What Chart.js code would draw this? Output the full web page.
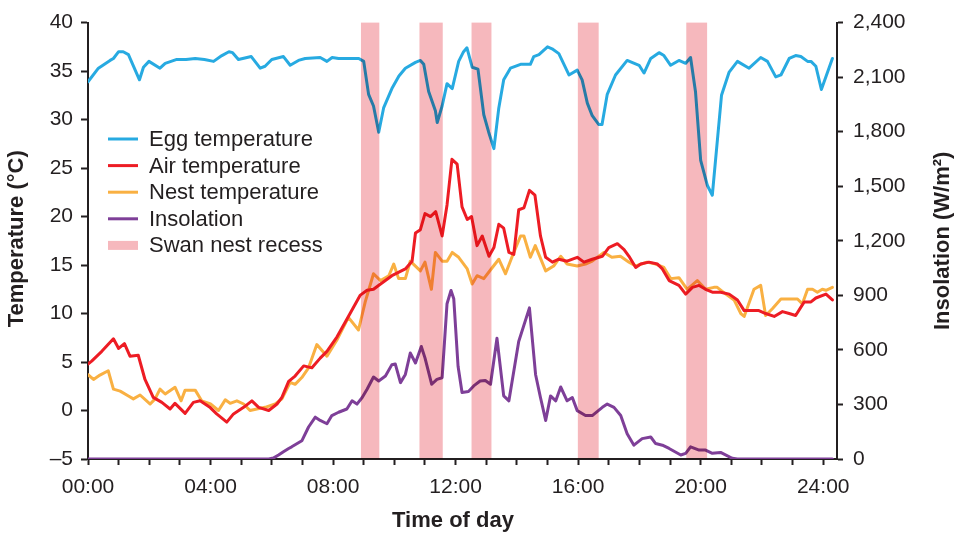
<!DOCTYPE html>
<html>
<head>
<meta charset="utf-8">
<title>Egg, air and nest temperature with insolation</title>
<script src="https://cdn.jsdelivr.net/npm/chart.js@4.4.1/dist/chart.umd.min.js"></script>
<style>
    body { margin: 0; background: #fff; }
    canvas { display: block; }
</style>
</head>
<body>
<canvas id="tempChart" width="961" height="534"></canvas>
<script>
// Values, time in decimal hours
const eggHours = [0.00,0.34,0.72,0.83,1.00,1.15,1.32,1.68,1.81,1.99,2.35,2.52,2.90,3.20,3.50,3.80,4.10,4.37,4.60,4.72,4.91,5.33,5.62,5.78,6.00,6.38,6.60,6.87,7.09,7.58,7.80,7.97,8.18,8.84,9.00,9.16,9.32,9.49,9.65,9.92,10.15,10.36,10.69,10.85,10.96,11.12,11.34,11.40,11.56,11.72,11.89,12.10,12.26,12.37,12.54,12.73,12.92,13.08,13.25,13.41,13.57,13.79,14.12,14.44,14.55,14.72,15.00,15.15,15.37,15.70,15.97,16.13,16.30,16.46,16.67,16.78,16.95,17.22,17.60,17.99,18.15,18.37,18.64,18.80,19.02,19.29,19.51,19.67,19.83,20.00,20.22,20.38,20.68,20.93,21.20,21.58,21.96,22.18,22.45,22.62,22.89,23.10,23.27,23.49,23.60,23.76,23.94,24.30];
const eggTemp = [33.9,35.3,36.1,36.3,37.0,37.0,36.7,34.1,35.4,36.0,35.3,35.8,36.2,36.2,36.3,36.2,36.0,36.6,37.0,36.9,36.2,36.5,35.3,35.5,36.2,36.5,35.6,36.1,36.3,36.4,36.0,36.4,36.3,36.3,36.0,32.6,31.4,28.7,31.2,33.2,34.5,35.3,35.9,36.1,35.7,32.9,30.9,29.7,31.4,33.7,33.2,36.0,37.0,37.4,35.4,35.2,30.5,28.7,27.0,31.2,34.1,35.3,35.7,35.7,36.5,36.7,37.5,37.3,36.8,34.6,35.1,34.1,31.7,30.4,29.5,29.5,32.6,34.6,36.1,35.6,34.8,36.3,36.9,36.6,35.6,36.1,35.8,36.4,32.9,25.8,23.2,22.2,32.5,34.9,36.0,35.3,36.4,36.0,34.4,34.6,36.3,36.6,36.5,36.0,36.0,35.5,33.1,36.3];

const airHours = [0.00,0.12,0.45,0.83,1.00,1.19,1.37,1.64,1.86,2.13,2.41,2.68,2.84,3.17,3.44,3.66,3.99,4.20,4.53,4.75,5.08,5.35,5.57,5.90,6.17,6.33,6.55,6.76,7.04,7.31,7.58,7.80,8.13,8.50,8.89,9.11,9.32,9.55,9.92,10.36,10.58,10.69,10.85,11.00,11.18,11.35,11.56,11.72,11.88,12.05,12.21,12.38,12.52,12.70,12.87,13.09,13.25,13.41,13.57,13.74,13.90,14.06,14.23,14.41,14.59,14.77,14.94,15.16,15.37,15.64,15.97,16.19,16.46,16.79,17.00,17.28,17.50,17.66,17.88,18.04,18.31,18.59,18.75,18.97,19.29,19.51,19.73,19.95,20.16,20.38,20.65,20.93,21.20,21.42,21.63,21.90,22.12,22.40,22.67,22.89,23.10,23.38,23.60,23.76,24.09,24.30];
const airTemp = [4.8,5.1,6.1,7.4,6.4,6.9,5.6,5.7,3.2,1.35,0.84,0.16,0.74,-0.3,0.84,1.0,0.3,-0.35,-1.2,-0.35,0.33,1.0,0.33,0.0,0.67,1.35,3.0,3.55,4.6,4.4,5.4,6.1,7.6,9.7,11.9,12.4,12.5,13.05,13.9,14.6,15.4,18.3,18.65,20.3,20.0,20.5,18.0,21.2,25.9,25.4,21.0,19.7,20.0,17.0,18.0,15.9,16.8,19.2,18.8,16.3,16.1,20.7,20.9,22.7,22.2,18.0,15.8,15.3,15.6,15.4,15.8,15.3,15.6,15.9,16.8,17.2,16.6,15.9,14.75,15.1,15.3,15.1,14.6,13.4,12.9,12.0,12.7,12.9,12.5,12.2,12.2,12.0,11.4,10.3,10.3,10.3,10.0,9.7,10.2,10.0,9.8,11.2,11.2,11.6,12.0,11.4];

const nestHours = [0.00,0.18,0.39,0.66,0.83,1.05,1.32,1.48,1.70,2.03,2.19,2.35,2.52,2.84,3.04,3.17,3.50,3.71,4.00,4.26,4.48,4.64,4.86,5.08,5.29,5.51,5.78,6.11,6.33,6.60,6.76,6.98,7.20,7.47,7.80,8.13,8.50,8.83,9.05,9.32,9.55,9.82,9.98,10.14,10.36,10.52,10.85,11.00,11.21,11.34,11.56,11.72,11.89,12.10,12.38,12.54,12.70,12.92,13.20,13.41,13.63,13.85,14.12,14.23,14.44,14.60,14.94,15.20,15.43,15.64,15.97,16.24,16.46,16.84,17.10,17.38,17.66,17.88,18.25,18.53,18.80,19.02,19.29,19.56,19.89,20.16,20.43,20.54,20.82,21.09,21.31,21.42,21.74,21.96,22.12,22.34,22.62,23.00,23.16,23.32,23.49,23.65,23.81,23.97,24.09,24.30];
const nestTemp = [3.7,3.2,3.65,4.1,2.2,2.0,1.5,1.2,1.6,0.67,1.2,2.2,1.7,2.4,1.0,2.1,2.1,1.0,0.67,0.0,1.1,0.74,1.0,0.67,0.0,0.16,0.33,0.67,1.2,2.9,2.7,3.4,4.4,6.8,5.6,7.3,9.6,8.3,11.2,14.1,13.4,13.9,15.1,13.6,13.6,15.4,14.4,15.3,12.5,16.3,15.4,15.4,16.3,15.8,14.6,13.05,13.9,13.6,14.75,15.6,14.1,15.9,18.0,18.0,15.8,17.0,14.4,14.9,15.9,15.1,14.9,15.1,15.4,16.3,15.8,15.9,15.3,14.9,15.3,15.1,14.75,13.6,13.7,12.5,13.4,12.5,12.7,12.7,12.0,11.4,10.0,9.7,12.5,12.9,9.8,10.5,11.5,11.5,11.5,11.0,12.5,12.5,12.2,12.5,12.4,12.7];

const insHours = [0.00,5.90,6.05,6.22,6.38,6.55,6.65,6.98,7.20,7.42,7.58,7.80,7.96,8.18,8.45,8.62,8.78,8.95,9.11,9.32,9.49,9.71,9.92,10.03,10.20,10.36,10.52,10.69,10.88,11.00,11.22,11.39,11.56,11.72,11.85,11.94,12.08,12.21,12.42,12.59,12.80,12.97,13.14,13.35,13.57,13.74,14.06,14.41,14.61,14.77,14.94,15.10,15.27,15.43,15.64,15.81,15.97,16.24,16.46,16.79,16.95,17.17,17.39,17.60,17.82,18.09,18.37,18.53,18.75,18.97,19.35,19.51,19.67,19.95,20.16,20.38,20.65,21.03,21.20,24.30];
const insolation = [0,0,5,22,40,58,67,100,176,230,212,194,239,257,275,320,302,338,384,451,429,456,519,523,420,465,583,528,619,556,411,438,447,854,927,881,510,366,371,402,429,432,411,664,347,320,646,831,465,338,212,347,320,396,320,338,266,239,239,284,302,284,239,139,76,112,121,85,76,58,22,31,67,49,49,31,36,4,0,0];

// Swan nest recess periods (hours)
const recessStart = [8.91, 10.82, 12.52, 15.99, 19.53];
const recessEnd = [9.51, 11.58, 13.17, 16.67, 20.21];

// Axis ticks
const hourTicks = [0,1,2,3,4,5,6,7,8,9,10,11,12,13,14,15,16,17,18,19,20,21,22,23,24];
const tempTicks = [-5,0,5,10,15,20,25,30,35,40];
const insolationTicks = [0,300,600,900,1200,1500,1800,2100,2400];

const seriesNames = ['Egg temperature', 'Air temperature', 'Nest temperature', 'Insolation', 'Swan nest recess'];
const seriesColors = ['#27aae1', '#ed1c24', '#f9b042', '#7e3f98'];
const recessColor = '#f6b8bd';
const ink = '#231f20';
const fontFamily = "'Liberation Sans', Arial, Helvetica, sans-serif";

Chart.defaults.font.family = fontFamily;
Chart.defaults.color = ink;

// Pair hours with values for the linear x axis
function toPoints(hours, values) {
    return hours.map((h, i) => ({ x: h, y: values[i] }));
}

function hourLabel(v) {
    return (v < 10 ? '0' + v : String(v)) + ':00';
}

function withComma(v) {
    if (v < 1000) return String(v);
    return Math.floor(v / 1000) + ',' + String(v % 1000).padStart(3, '0');
}

// Pink recess bands, multiplied over the lines so they darken underneath
const recessBands = {
    id: 'recessBands',
    afterDatasetsDraw(chart) {
        const { ctx, chartArea, scales: { x } } = chart;
        ctx.save();
        ctx.globalCompositeOperation = 'multiply';
        ctx.fillStyle = recessColor;
        recessStart.forEach((start, i) => {
            const x0 = x.getPixelForValue(start);
            const x1 = x.getPixelForValue(recessEnd[i]);
            ctx.fillRect(x0, chartArea.top, x1 - x0, chartArea.bottom - chartArea.top);
        });
        ctx.restore();
    }
};

// Legend inside the plot and the three axis titles
const legendAndTitles = {
    id: 'legendAndTitles',
    afterDraw(chart) {
        const { ctx, chartArea } = chart;
        const midY = (chartArea.top + chartArea.bottom) / 2;
        ctx.save();

        seriesNames.forEach((name, i) => {
            const y = 139 + i * 26.6;
            if (i < seriesColors.length) {
                ctx.strokeStyle = seriesColors[i];
                ctx.lineWidth = 3;
                ctx.beginPath();
                ctx.moveTo(108, y);
                ctx.lineTo(138, y);
                ctx.stroke();
            } else {
                ctx.fillStyle = recessColor;
                ctx.fillRect(108, y - 4.5, 30, 9);
            }
            ctx.fillStyle = ink;
            ctx.font = '22px ' + fontFamily;
            ctx.textAlign = 'left';
            ctx.textBaseline = 'middle';
            ctx.fillText(name, 149, y + 1);
        });

        ctx.fillStyle = ink;
        ctx.font = 'bold 22px ' + fontFamily;
        ctx.textAlign = 'center';
        ctx.textBaseline = 'middle';
        ctx.fillText('Time of day', 453, 521);

        ctx.save();
        ctx.translate(17, midY - 2);
        ctx.rotate(-Math.PI / 2);
        ctx.fillText('Temperature (°C)', 0, 0);
        ctx.restore();

        ctx.save();
        ctx.translate(943, midY);
        ctx.rotate(-Math.PI / 2);
        ctx.fillText('Insolation (W/m²)', 0, 0);
        ctx.restore();

        ctx.restore();
    }
};

const axisGrid = (len) => ({
    display: true,
    drawOnChartArea: false,
    drawTicks: true,
    tickLength: len,
    tickWidth: 2,
    tickColor: ink
});
const axisBorder = { display: true, color: ink, width: 2 };

const ctx = document.getElementById('tempChart').getContext('2d');
const tempChart = new Chart(ctx, {
    type: 'line',
    data: {
        datasets: [
            { label: seriesNames[0], data: toPoints(eggHours, eggTemp), borderColor: seriesColors[0], yAxisID: 'y' },
            { label: seriesNames[1], data: toPoints(airHours, airTemp), borderColor: seriesColors[1], yAxisID: 'y' },
            { label: seriesNames[2], data: toPoints(nestHours, nestTemp), borderColor: seriesColors[2], yAxisID: 'y' },
            { label: seriesNames[3], data: toPoints(insHours, insolation), borderColor: seriesColors[3], yAxisID: 'y1' }
        ]
    },
    options: {
        responsive: false,
        animation: false,
        layout: { padding: { top: 17, left: 0, right: 0, bottom: 0 } },
        elements: {
            line: { borderWidth: 3, tension: 0, borderJoinStyle: 'round', borderCapStyle: 'round' },
            point: { radius: 0 }
        },
        plugins: {
            legend: { display: false },
            tooltip: { enabled: false }
        },
        scales: {
            x: {
                type: 'linear',
                min: 0,
                max: 24.45,
                afterBuildTicks: axis => { axis.ticks = hourTicks.map(v => ({ value: v })); },
                afterFit: axis => { axis.height = 75; },
                border: axisBorder,
                grid: axisGrid(6),
                ticks: {
                    autoSkip: false,
                    maxRotation: 0,
                    padding: 10,
                    color: ink,
                    font: { size: 21 },
                    callback: v => (v % 4 === 0 ? hourLabel(v) : '')
                }
            },
            y: {
                position: 'left',
                min: -5,
                max: 40,
                afterBuildTicks: axis => { axis.ticks = tempTicks.map(v => ({ value: v })); },
                afterFit: axis => { axis.width = 88; },
                border: axisBorder,
                grid: axisGrid(7),
                ticks: {
                    padding: 8,
                    color: ink,
                    font: { size: 21 },
                    callback: v => (v < 0 ? '\u2013' + Math.abs(v) : String(v))
                }
            },
            y1: {
                position: 'right',
                min: 0,
                max: 2400,
                afterBuildTicks: axis => { axis.ticks = insolationTicks.map(v => ({ value: v })); },
                afterFit: axis => { axis.width = 124; },
                border: axisBorder,
                grid: axisGrid(6),
                ticks: {
                    padding: 10,
                    color: ink,
                    font: { size: 21 },
                    callback: v => withComma(v)
                }
            }
        }
    },
    plugins: [recessBands, legendAndTitles]
});
</script>
</body>
</html>
